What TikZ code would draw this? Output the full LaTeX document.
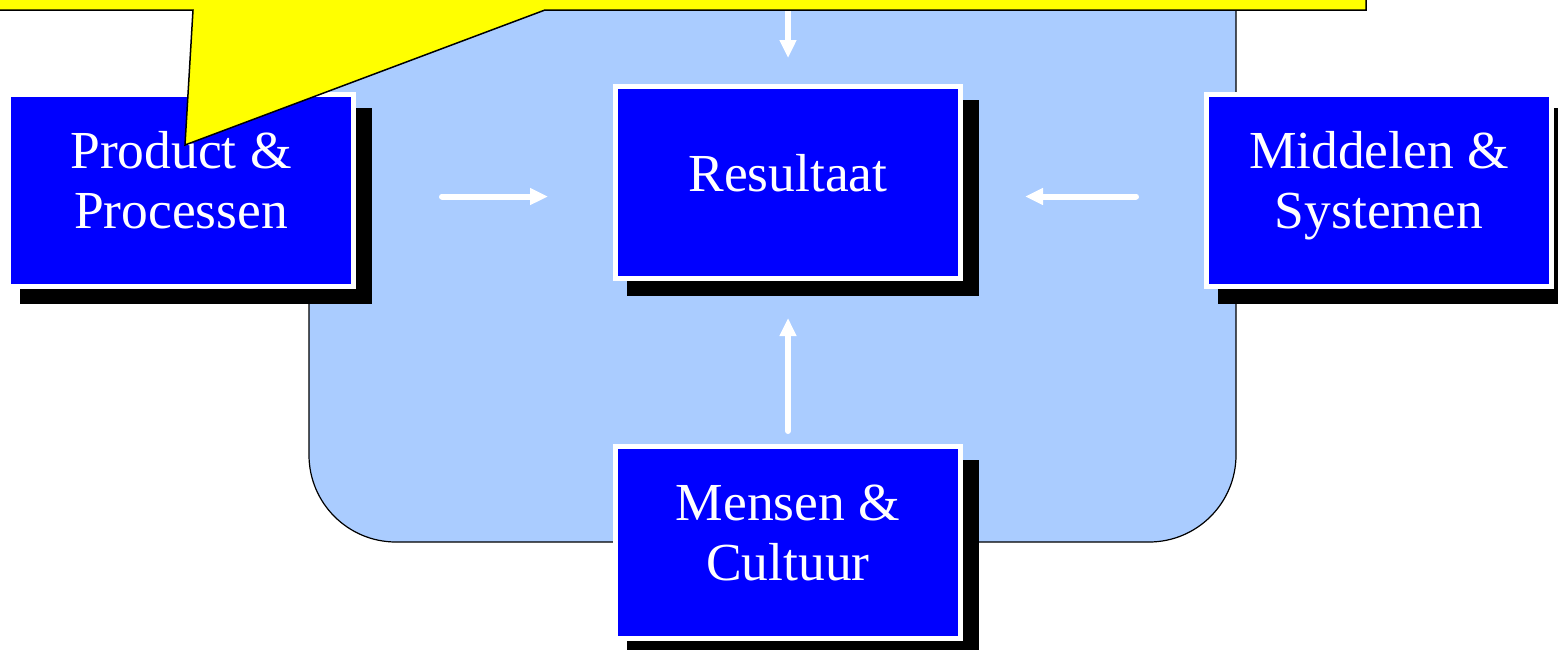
\documentclass[tikz,border=0pt]{standalone}
\usepackage{fontspec}
\setmainfont{Liberation Serif}
\usetikzlibrary{arrows.meta,shadows}
\definecolor{vlakblauw}{RGB}{170,204,255}
\definecolor{blokblauw}{RGB}{0,0,255}
\definecolor{ballongeel}{RGB}{255,255,0}
\begin{document}
\begin{tikzpicture}[x=1pt, y=-1pt, font=\fontsize{53.5}{60}\selectfont]
    \tikzset{ blok/.style={fill=blokblauw, draw=white, line width=5pt, text=white, align=center,
        minimum width=345pt, minimum height=192pt, text height=108pt, text depth=33pt,
        drop shadow={shadow xshift=15pt, shadow yshift=-15pt, shadow scale=1.02, fill=black, opacity=1}},
      pijl/.style={draw=white, line width=6pt, line cap=round, -{Triangle[length=18pt, width=16pt]}} }
    \clip (0,0) rectangle (1558,649);
    % achtergrondvlak
    \draw[fill=vlakblauw, line width=1.2pt, rounded corners=87pt] (309,-200) rectangle (1236,542);

    \node[blok] (product) at (181,190.5) {Product \&\\Processen};
    \node[blok, text height=40pt, text depth=23pt] (resultaat) at (788,182.5) {Resultaat};
    \node[blok] (middelen) at (1379,190.5) {Middelen \&\\Systemen};
    \node[blok] (mensen) at (788,542.5) {Mensen \&\\Cultuur};

    \coordinate (ballonrand) at (788,10);
    \draw[pijl, shorten >=26pt] (ballonrand) -- (resultaat.north);
    \draw[pijl, shorten <=86pt, shorten >=65pt] ([yshift=-6pt]product.east) -- ([yshift=-6pt]product.east -| resultaat.west);
    \draw[pijl, shorten <=68pt, shorten >=62pt] ([yshift=-6pt]middelen.west) -- ([yshift=-6pt]middelen.west -| resultaat.east);
    \draw[pijl, shorten <=13pt, shorten >=37pt] (mensen.north) -- (resultaat.south);

    % tekstballon
    \draw[fill=ballongeel, line width=1.5pt, line join=miter] (-20,-100) -- (1366,-100) -- (1366,10) -- (545,10)
      -- (185,145) -- (193,10) -- (-20,10) -- cycle;
\end{tikzpicture}
\end{document}
